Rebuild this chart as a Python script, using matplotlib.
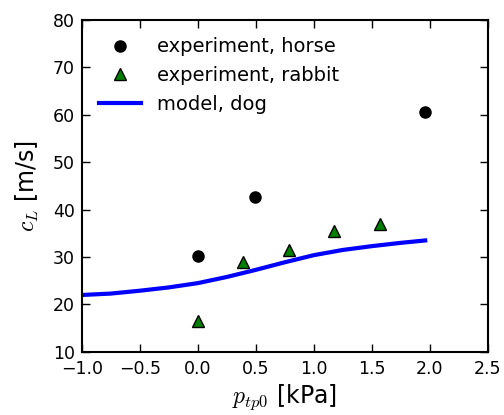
import matplotlib
matplotlib.use('Agg')
import matplotlib.pyplot as plt
import numpy as np

plt.rcParams['mathtext.fontset'] = 'cm'
plt.rcParams['font.family'] = 'DejaVu Sans'

# measured wave speeds
p_horse = [0.0, 0.49, 1.96]
c_horse = [30.3, 42.7, 60.5]

p_rabbit = [0.0, 0.392, 0.785, 1.177, 1.569]
c_rabbit = [16.6, 29.0, 31.5, 35.4, 36.9]

# model curve
p_dog = [-1.0, -0.75, -0.5, -0.25, 0.0, 0.25, 0.5, 0.75, 1.0, 1.25, 1.5, 1.75, 1.96]
c_dog = [22.0, 22.3, 22.9, 23.6, 24.5, 25.8, 27.3, 28.9, 30.4, 31.5, 32.3, 33.0, 33.5]


def main():
    fig = plt.figure(figsize=(5.04, 4.15), dpi=100)
    ax = fig.add_axes([0.162, 0.152, 0.806, 0.800])

    ax.plot(p_horse, c_horse, 'o', color='k', markersize=8, label='experiment, horse')
    ax.plot(p_rabbit, c_rabbit, '^', color='g', markeredgecolor='k', markersize=8,
            label='experiment, rabbit')
    ax.plot(p_dog, c_dog, '-', color='b', linewidth=3, label='model, dog')

    ax.set_xlim(-1.0, 2.5)
    ax.set_ylim(10, 80)
    ax.set_xticks(np.arange(-1.0, 2.51, 0.5))
    ax.set_yticks(np.arange(10, 81, 10))
    ax.tick_params(direction='in', top=True, right=True, length=6, width=1,
                   labelsize=12.5)
    ax.tick_params(axis='x', pad=6)
    ax.tick_params(axis='y', pad=5)
    for s in ax.spines.values():
        s.set_linewidth(1.5)

    ax.set_xlabel('$p_{tp0}$ [kPa]', fontsize=17, labelpad=3)
    ax.set_ylabel('$c_L$ [m/s]', fontsize=17, labelpad=8)

    ax.legend(loc='upper left', frameon=False, numpoints=1, fontsize=14,
              handlelength=2.15, handletextpad=0.8, borderaxespad=0.5,
              labelspacing=0.5)

    fig.savefig('out.png', dpi=100)


if __name__ == '__main__':
    main()
